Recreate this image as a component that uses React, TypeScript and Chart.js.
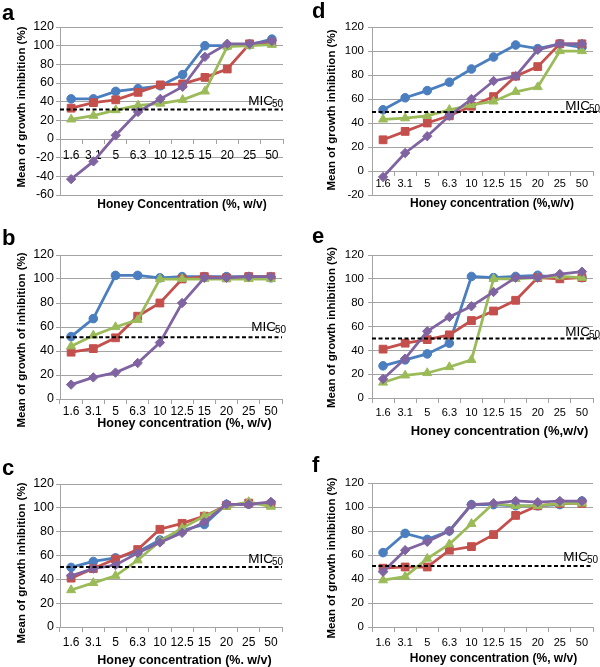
import React, { useEffect, useRef } from 'react';
import { Chart, registerables } from 'chart.js';

Chart.register(...registerables);

const FONT = "'Liberation Sans', Arial, sans-serif";
Chart.defaults.font.family = FONT;

const concentrations = ['1.6', '3.1', '5', '6.3', '10', '12.5', '15', '20', '25', '50'];

// Panel a
const aBlue = [43, 43, 51, 54, 57, 69, 100, 100, 101, 107];
const aRed = [33, 39, 42, 50, 58, 59, 66, 75, 102, 103];
const aGreen = [21, 25, 31, 36, 38, 42, 51, 99, 100, 101];
const aPurple = [-43, -24, 4, 29, 43, 56, 88, 102, 102, 105];
const aMic = 31.5;

// Panel d
const dBlue = [51, 61, 67, 74, 85, 95, 105, 102, 106, 103];
const dRed = [26, 33, 40, 46, 54, 62, 79, 87, 106, 106];
const dGreen = [43, 44, 46, 51, 55, 58, 66, 70, 100, 100];
const dPurple = [-5, 15, 29, 46, 60, 75, 79, 101, 106, 106];
const dMic = 49.2;

// Panel b
const bBlue = [52, 67, 103, 103, 101, 102, 102, 102, 102, 101];
const bRed = [39, 42, 51, 69, 80, 100, 102, 101, 102, 102];
const bGreen = [44, 53, 60, 66, 100, 100, 100, 100, 100, 100];
const bPurple = [12, 18, 22, 30, 47, 80, 101, 101, 102, 102];
const bMic = 51.4;

// Panel e
const eBlue = [27, 32, 37, 46, 102, 101, 102, 103, 101, 101];
const eRed = [41, 46, 49, 53, 65, 73, 82, 101, 100, 101];
const eGreen = [13, 19, 21, 26, 32, 100, 100, 101, 102, 101];
const ePurple = [16, 33, 56, 68, 77, 89, 101, 101, 104, 106];
const eMic = 49.9;

// Panel c
const cBlue = [50, 55, 58, 63, 73, 81, 86, 103, 103, 104];
const cRed = [41, 49, 57, 65, 82, 87, 93, 102, 104, 103];
const cGreen = [31, 37, 43, 56, 72, 83, 93, 101, 105, 101];
const cPurple = [43, 49, 52, 62, 71, 79, 88, 103, 103, 105];
const cMic = 50.4;

// Panel f
const fBlue = [62, 78, 73, 80, 102, 102, 101, 101, 102, 105];
const fRed = [49, 50, 50, 64, 67, 77, 93, 101, 103, 103];
const fGreen = [39, 42, 57, 69, 86, 103, 101, 101, 103, 103];
const fPurple = [46, 64, 71, 80, 102, 103, 105, 104, 105, 105];
const fMic = 50.8;

const seriesStyles = [
  { color: '#4A7EBF', pointStyle: 'circle', radius: 4.3, order: 4 },
  { color: '#C4504D', pointStyle: 'rect', radius: 5.5, order: 3 },
  { color: '#9BBB59', pointStyle: 'triangle', radius: 5.2, order: 2 },
  { color: '#8064A2', pointStyle: 'rectRot', radius: 4.7, order: 1 },
];

type PanelCfg = {
  letter: string; letterX: number; letterY: number;
  left: number; top: number; width: number; height: number;
  padTop: number; padBottom: number; padRight: number; yWidth: number;
  yMin: number; yMax: number;
  series: number[][];
  mic: number; micExtend: number; micLabelDx: number; micLabelDy: number;
  xTitle: string; xTitleSize: number; xTitleDx: number; xTitleY: number;
  yTitle: string; yTitleX: number; yTitleDy: number;
  yTickSize: number; xTickSize: number; xTickPad: number; yTickPad: number;
};

const panels: PanelCfg[] = [
  {
    letter: 'a', letterX: 2, letterY: 20, left: 0, top: 0, width: 300, height: 218,
    padTop: 27, padBottom: 23, padRight: 17, yWidth: 60, yMin: -60, yMax: 120,
    series: [aBlue, aRed, aGreen, aPurple],
    mic: aMic, micExtend: 0, micLabelDx: 0, micLabelDy: 5,
    xTitle: 'Honey Concentration (%, w/v)', xTitleSize: 12, xTitleDx: 10.5, xTitleY: 205,
    yTitle: 'Mean of growth inhibition (%)', yTitleX: 22, yTitleDy: -4,
    yTickSize: 12.5, xTickSize: 12, xTickPad: 5, yTickPad: 2,
  },
  {
    letter: 'd', letterX: 12, letterY: 18, left: 300, top: 0, width: 300, height: 218,
    padTop: 27, padBottom: 23, padRight: 7, yWidth: 72, yMin: -20, yMax: 120,
    series: [dBlue, dRed, dGreen, dPurple],
    mic: dMic, micExtend: 7, micLabelDx: 7, micLabelDy: 2,
    xTitle: 'Honey concentration (%,w/v)', xTitleSize: 12, xTitleDx: 9.5, xTitleY: 204,
    yTitle: 'Mean of growth inhibition (%)', yTitleX: 32, yTitleDy: -1,
    yTickSize: 11.5, xTickSize: 11, xTickPad: 2, yTickPad: 4,
  },
  {
    letter: 'b', letterX: 2, letterY: 27, left: 0, top: 218, width: 300, height: 222,
    padTop: 37, padBottom: 41, padRight: 18, yWidth: 60, yMin: 0, yMax: 120,
    series: [bBlue, bRed, bGreen, bPurple],
    mic: bMic, micExtend: 0, micLabelDx: 4, micLabelDy: 6,
    xTitle: 'Honey concentration (%, w/v)', xTitleSize: 12.5, xTitleDx: 13.5, xTitleY: 206,
    yTitle: 'Mean of growth of inhibition (%)', yTitleX: 22, yTitleDy: 13,
    yTickSize: 12.5, xTickSize: 12, xTickPad: 1, yTickPad: 2,
  },
  {
    letter: 'e', letterX: 12, letterY: 25, left: 300, top: 218, width: 300, height: 222,
    padTop: 37, padBottom: 42, padRight: 7, yWidth: 72, yMin: 0, yMax: 120,
    series: [eBlue, eRed, eGreen, ePurple],
    mic: eMic, micExtend: 7, micLabelDx: 7, micLabelDy: 3,
    xTitle: 'Honey concentration (%,w/v)', xTitleSize: 13, xTitleDx: 17, xTitleY: 213.5,
    yTitle: 'Mean of growth inhibition (%)', yTitleX: 32, yTitleDy: 1,
    yTickSize: 11.5, xTickSize: 11, xTickPad: 4, yTickPad: 4,
  },
  {
    letter: 'c', letterX: 2, letterY: 35, left: 0, top: 440, width: 300, height: 227,
    padTop: 44, padBottom: 40, padRight: 18, yWidth: 60, yMin: 0, yMax: 120,
    series: [cBlue, cRed, cGreen, cPurple],
    mic: cMic, micExtend: 0, micLabelDx: 1, micLabelDy: 4,
    xTitle: 'Honey concentration (%. w/v)', xTitleSize: 12.5, xTitleDx: 13.5, xTitleY: 221,
    yTitle: 'Mean of growth inhibition (%)', yTitleX: 22, yTitleDy: 7.5,
    yTickSize: 12.5, xTickSize: 12, xTickPad: 4, yTickPad: 2,
  },
  {
    letter: 'f', letterX: 12, letterY: 32, left: 300, top: 440, width: 300, height: 227,
    padTop: 43, padBottom: 40, padRight: 7, yWidth: 72, yMin: 0, yMax: 120,
    series: [fBlue, fRed, fGreen, fPurple],
    mic: fMic, micExtend: 0, micLabelDx: 5, micLabelDy: 5,
    xTitle: 'Honey concentration (%, w/v)', xTitleSize: 12, xTitleDx: 11, xTitleY: 219,
    yTitle: 'Mean of growth inhibition (%)', yTitleX: 32, yTitleDy: 3,
    yTickSize: 11.5, xTickSize: 11, xTickPad: 5, yTickPad: 4,
  },
];

const decoPlugin = {
  id: 'deco',
  afterDatasetsDraw(chart: any, _args: any, o: any) {
    const { ctx, chartArea } = chart;
    const y = chart.scales.y.getPixelForValue(o.mic);
    ctx.save();
    ctx.strokeStyle = '#000';
    ctx.lineWidth = 2;
    ctx.setLineDash([4, 2.5]);
    ctx.beginPath();
    ctx.moveTo(chartArea.left, y);
    ctx.lineTo(chartArea.right + o.micExtend, y);
    ctx.stroke();
    ctx.setLineDash([]);
    ctx.fillStyle = '#000';
    ctx.textAlign = 'left';
    ctx.textBaseline = 'alphabetic';
    ctx.font = `13.5px ${FONT}`;
    const mainW = ctx.measureText('MIC').width;
    ctx.font = `10px ${FONT}`;
    const subW = ctx.measureText('50').width;
    const right = chartArea.right + o.micLabelDx;
    ctx.font = `13.5px ${FONT}`;
    ctx.fillText('MIC', right - subW - mainW + 1, y - o.micLabelDy);
    ctx.font = `10px ${FONT}`;
    ctx.fillText('50', right - subW, y - o.micLabelDy + 2);
    ctx.restore();
  },
  afterDraw(chart: any, _args: any, o: any) {
    const { ctx, chartArea } = chart;
    ctx.save();
    ctx.fillStyle = '#000';
    // panel letter
    ctx.font = `bold 22px ${FONT}`;
    ctx.textAlign = 'left';
    ctx.textBaseline = 'alphabetic';
    ctx.fillText(o.letter, o.letterX, o.letterY);
    // x title
    ctx.font = `bold ${o.xTitleSize}px ${FONT}`;
    ctx.textAlign = 'center';
    ctx.textBaseline = 'middle';
    ctx.fillText(o.xTitle, (chartArea.left + chartArea.right) / 2 + o.xTitleDx, o.xTitleY);
    // y title
    ctx.font = `bold 11.5px ${FONT}`;
    ctx.translate(o.yTitleX, (chartArea.top + chartArea.bottom) / 2 + o.yTitleDy);
    ctx.rotate(-Math.PI / 2);
    ctx.fillText(o.yTitle, 0, 0);
    ctx.restore();
  },
};

const GRID = '#a3a3a3';

function Panel({ cfg }: { cfg: PanelCfg }) {
  const ref = useRef<HTMLCanvasElement | null>(null);
  useEffect(() => {
    if (!ref.current) return;
    const chart = new Chart(ref.current, {
      type: 'line',
      data: {
        labels: concentrations,
        datasets: cfg.series.map((values, i) => ({
          data: values,
          borderColor: seriesStyles[i].color,
          backgroundColor: seriesStyles[i].color,
          pointBackgroundColor: seriesStyles[i].color,
          pointBorderColor: seriesStyles[i].color,
          pointStyle: seriesStyles[i].pointStyle as any,
          pointRadius: seriesStyles[i].radius,
          pointBorderWidth: 1,
          borderWidth: 2.75,
          tension: 0,
          order: seriesStyles[i].order,
        })),
      },
      options: {
        responsive: false,
        animation: false,
        events: [],
        layout: { padding: { top: cfg.padTop, bottom: cfg.padBottom, right: cfg.padRight, left: 0 } },
        scales: {
          x: {
            type: 'category',
            position: { y: 0 } as any,
            offset: true,
            grid: { display: true, drawOnChartArea: false, drawTicks: true, tickLength: 4, offset: true, color: GRID },
            border: { display: true, color: GRID },
            ticks: { color: '#000', font: { size: cfg.xTickSize }, padding: cfg.xTickPad, maxRotation: 0, autoSkip: false },
          },
          y: {
            min: cfg.yMin,
            max: cfg.yMax,
            afterFit: (s: any) => { s.width = cfg.yWidth; },
            ticks: { stepSize: 20, color: '#000', font: { size: cfg.yTickSize }, padding: cfg.yTickPad },
            grid: { color: GRID, tickLength: 4 },
            border: { display: true, color: GRID },
            title: { display: false },
          },
        },
        plugins: {
          legend: { display: false },
          tooltip: { enabled: false },
          deco: cfg as any,
        } as any,
      },
      plugins: [decoPlugin as any],
    });
    return () => chart.destroy();
  }, [cfg]);
  return (
    <canvas
      ref={ref}
      width={cfg.width}
      height={cfg.height}
      style={{ position: 'absolute', left: cfg.left, top: cfg.top, width: cfg.width, height: cfg.height }}
    />
  );
}

export default function App() {
  return (
    <div style={{ position: 'absolute', left: 0, top: 0, width: 600, height: 667, background: '#fff' }}>
      {panels.map((p) => (
        <Panel key={p.letter} cfg={p} />
      ))}
    </div>
  );
}
